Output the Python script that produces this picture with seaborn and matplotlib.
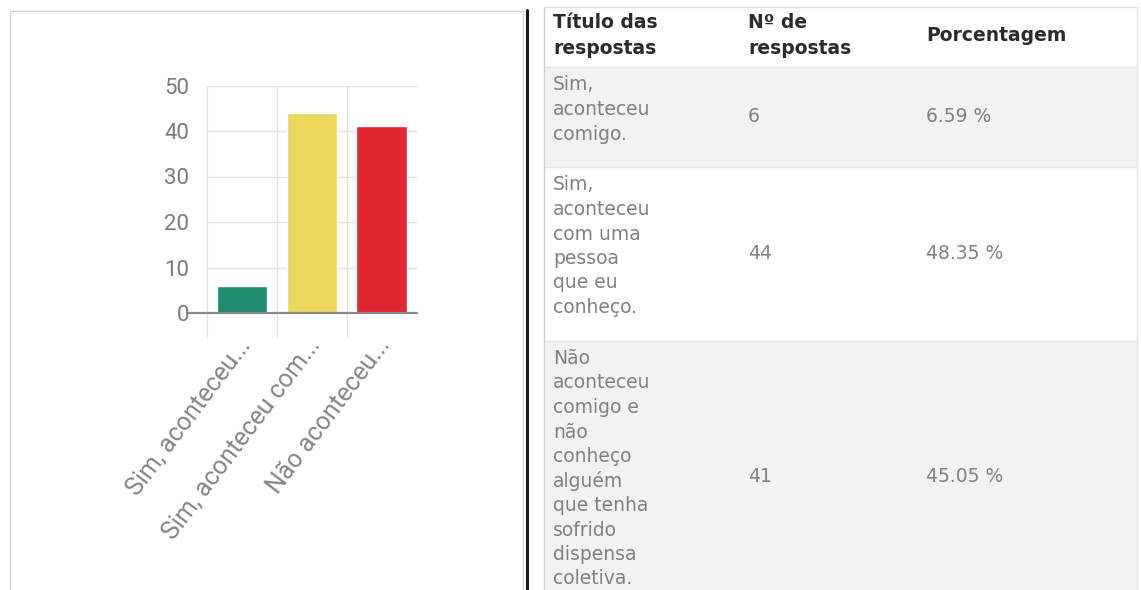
import numpy as np
import pandas as pd
import matplotlib
matplotlib.use("Agg")
import matplotlib.pyplot as plt
from matplotlib.patches import Rectangle
from matplotlib.transforms import ScaledTranslation
import seaborn as sns

# --- data ---
short_labels = ["Sim, aconteceu...", "Sim, aconteceu com...", "Não aconteceu..."]
counts = [6, 44, 41]
bar_colors = ["#1f8c6f", "#ecd75c", "#e0262f"]

header_col1 = ["Título das", "respostas"]
header_col2 = ["Nº de", "respostas"]
header_col3 = ["Porcentagem"]

answer_lines = [
    ["Sim,", "aconteceu", "comigo."],
    ["Sim,", "aconteceu", "com uma", "pessoa", "que eu", "conheço."],
    ["Não", "aconteceu", "comigo e", "não", "conheço", "alguém",
     "que tenha", "sofrido", "dispensa", "coletiva."],
]

total = sum(counts)
percents = [f"{c / total * 100:.2f} %" for c in counts]

sns.set_style("white")
plt.rcParams['font.family'] = ['Roboto', 'DejaVu Sans']

W, H = 1141, 590
fig = plt.figure(figsize=(W / 100, H / 100), dpi=100)

# background / table layer in pixel coords
bg = fig.add_axes([0, 0, 1, 1], zorder=0)
bg.set_xlim(0, W)
bg.set_ylim(H, 0)
bg.axis('off')

# --- bar chart ---
ax_left, ax_right, ax_top, ax_bottom = 207, 416.5, 85.5, 313
ax = fig.add_axes([ax_left / W, (H - ax_bottom) / H, (ax_right - ax_left) / W,
                   (ax_bottom - ax_top) / H], zorder=1)
ax.patch.set_alpha(0)

df = pd.DataFrame({'label': short_labels, 'count': counts})
sns.barplot(data=df, x='label', y='count', hue='label', palette=bar_colors,
            saturation=1, width=0.72, legend=False, ax=ax, zorder=2)

ax.set_xlim(-0.5, 2.5)
ax.set_ylim(0, 50)
ax.set_yticks(range(0, 51, 10))
ax.set_xlabel('')
ax.set_ylabel('')
for s in ax.spines.values():
    s.set_visible(False)

grid_c = '#e2e2e2'
ax.grid(axis='y', color=grid_c, lw=1)
ax.set_axisbelow(True)
ax.vlines([-0.5, 0.5, 1.5], -5.2, 50, color=grid_c, lw=1, clip_on=False, zorder=0)
ax.plot([-0.5 - 18 / 69.75, 2.5], [0, 0], color='#8a8a8a', lw=1.6,
        clip_on=False, zorder=3)

ax.tick_params(axis='y', length=13, width=1, color=grid_c, pad=0,
               labelsize=16, labelcolor='#7a7a7a')
ax.set_xticks(range(len(short_labels)))
ax.set_xticklabels(short_labels, rotation=53, ha='right', va='center',
                   rotation_mode='anchor')
ax.tick_params(axis='x', length=0, pad=20, labelsize=18, labelcolor='#858585')
for lab in ax.get_xticklabels():
    lab.set_transform(lab.get_transform() + ScaledTranslation(0.04, 0, fig.dpi_scale_trans))

# left panel frame and divider
bg.add_patch(Rectangle((9.5, 10.5), 513, 620, fill=False, ec='#d2d2d2', lw=1))
bg.plot([526.5, 526.5], [10, H], color='#1a1a1a', lw=2.2)

# --- table ---
t_left, t_right = 544, 1137
col_x = [553, 748, 926]
line_h = 24.5
pad_top, pad_bot = 18, 33
header_top, header_bot = 7, 66
body_font = ['DejaVu Sans']
body_size = 13.5
body_color = '#808080'
head_color = '#2b2b2b'

# header
bg.plot([t_left, t_right], [header_top, header_top], color='#dcdcdc', lw=1)
for i, ln in enumerate(header_col1):
    bg.text(col_x[0], 23 + i * 25, ln, fontsize=body_size, fontweight='bold',
            family=body_font, color=head_color, va='center', ha='left')
for i, ln in enumerate(header_col2):
    bg.text(col_x[1], 23 + i * 25, ln, fontsize=body_size, fontweight='bold',
            family=body_font, color=head_color, va='center', ha='left')
bg.text(col_x[2], 35.5, header_col3[0], fontsize=body_size, fontweight='bold',
        family=body_font, color=head_color, va='center', ha='left')

row_top = header_bot + 1
for r, lines in enumerate(answer_lines):
    row_h = pad_top + (len(lines) - 1) * line_h + pad_bot
    if r % 2 == 0:
        bg.add_patch(Rectangle((t_left + 1, row_top), t_right - t_left - 1, row_h,
                               fc='#f2f2f2', ec='none'))
    bg.plot([t_left, t_right], [row_top, row_top], color='#e6e6e6', lw=1)
    for i, ln in enumerate(lines):
        bg.text(col_x[0], row_top + pad_top + i * line_h, ln, fontsize=body_size,
                family=body_font, color=body_color, va='center', ha='left')
    mid = row_top + row_h / 2
    bg.text(col_x[1], mid, str(counts[r]), fontsize=body_size, family=body_font,
            color=body_color, va='center', ha='left')
    bg.text(col_x[2], mid, percents[r], fontsize=body_size, family=body_font,
            color=body_color, va='center', ha='left')
    row_top += row_h

bg.plot([t_left, t_left], [header_top, H], color='#cfcfcf', lw=1)
bg.plot([t_right, t_right], [header_top, H], color='#e6e6e6', lw=1)

fig.savefig('out.png', dpi=100)
